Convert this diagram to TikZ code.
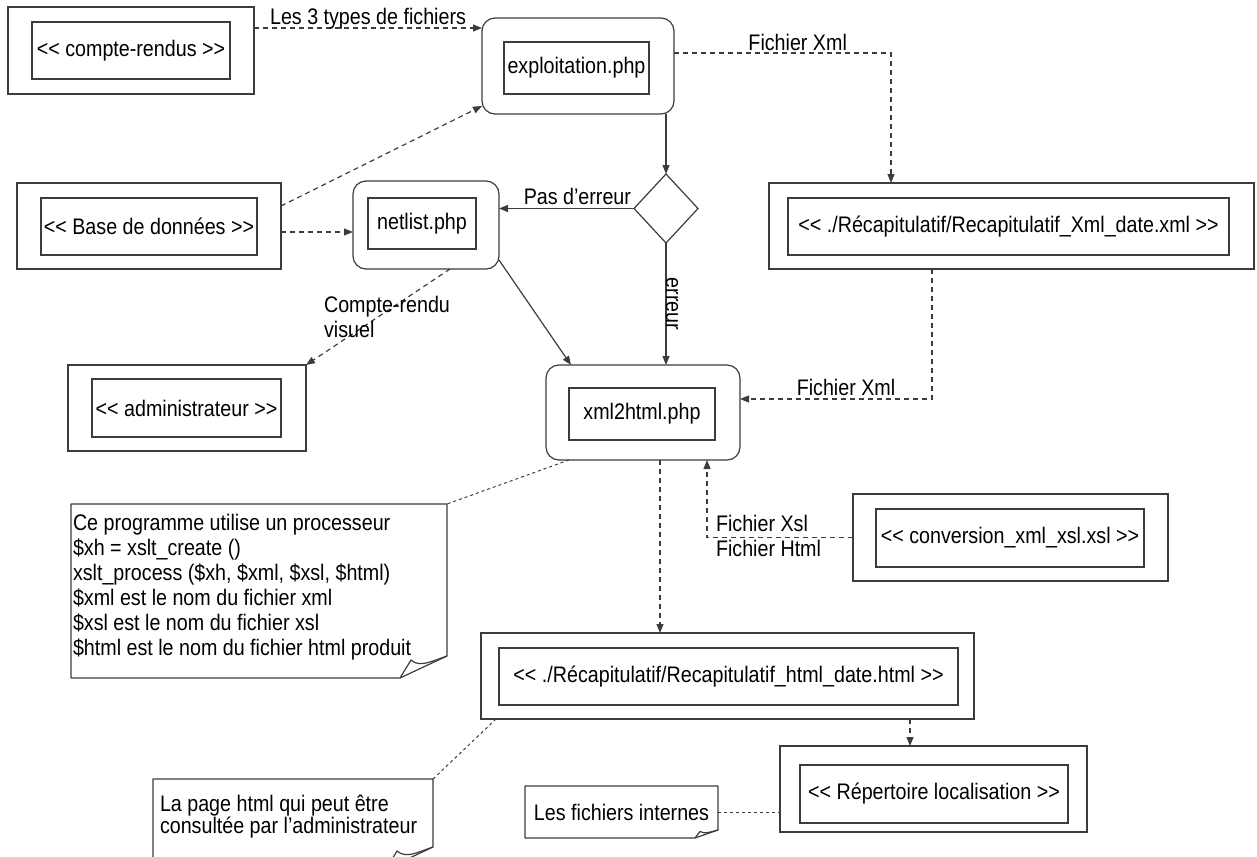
\documentclass[tikz,border=0pt]{standalone}
\usepackage{fontspec}
\setmainfont{Liberation Sans}[FakeStretch=0.875]
\usetikzlibrary{shapes.geometric,arrows.meta}
\definecolor{linegray}{RGB}{60,60,60}
\newcommand{\stereo}[1]{<\kern0pt< #1 >\kern0pt>}
\tikzset{
  outerbox/.style={draw=linegray, line width=1.2pt, inner sep=0pt},
  innerbox/.style={draw=linegray, line width=1.2pt, inner sep=0pt, align=center},
  progbox/.style={outerbox, rounded corners=13pt},
  decision/.style={draw=linegray, line width=1.2pt, diamond, inner sep=0pt},
  flow/.style={draw=linegray, line width=1.2pt, -{Triangle[length=9pt,width=7pt]}},
  dataflow/.style={flow, dash pattern=on 5pt off 4pt},
  noteline/.style={draw=linegray, line width=1pt, dash pattern=on 3pt off 3pt},
  noteedge/.style={draw=linegray, line width=1.2pt, line join=round},
  notebox/.style={inner sep=0pt},
  notetext/.style={inner sep=2pt, align=left}
}
\begin{document}
\begin{tikzpicture}[x=1pt, y=-1pt, font=\fontsize{22.5}{25}\selectfont, inner sep=2pt, outer sep=0pt]
\useasboundingbox (0,0) rectangle (1257,856);
\clip (0,0) rectangle (1257,856);
% files and actors
\node[outerbox, minimum width=246pt, minimum height=87pt] (cr) at (131,50.5) {};
\node[innerbox, minimum width=198pt, minimum height=57pt] (cri) at (131,50.5) {\stereo{compte-rendus}};
\node[outerbox, minimum width=264pt, minimum height=86pt] (bd) at (149,226) {};
\node[innerbox, minimum width=216pt, minimum height=57pt] (bdi) at (149,226.5) {\stereo{Base de données}};
\node[outerbox, minimum width=238pt, minimum height=86pt] (adm) at (187,408) {};
\node[innerbox, minimum width=189pt, minimum height=58pt] (admi) at (186.5,408) {\stereo{administrateur}};
\node[outerbox, minimum width=485pt, minimum height=86pt] (xmlf) at (1011.5,226) {};
\node[innerbox, minimum width=441pt, minimum height=57pt] (xmlfi) at (1008.5,226.5) {\stereo{./Récapitulatif/Recapitulatif\_Xml\_date.xml}};
\node[outerbox, minimum width=315pt, minimum height=87pt] (conv) at (1010.5,537.5) {};
\node[innerbox, minimum width=268pt, minimum height=58pt] (convi) at (1010,538) {\stereo{conversion\_xml\_xsl.xsl}};
\node[outerbox, minimum width=493pt, minimum height=86pt] (html) at (727.5,676) {};
\node[innerbox, minimum width=459pt, minimum height=57pt] (htmli) at (728.5,676.5) {\stereo{./Récapitulatif/Recapitulatif\_html\_date.html}};
\node[outerbox, minimum width=307pt, minimum height=86pt] (rep) at (933.5,789) {};
\node[innerbox, minimum width=268pt, minimum height=58pt] (repi) at (934,794) {\stereo{Répertoire localisation}};
% scripts
\node[progbox, minimum width=192pt, minimum height=96pt] (exp) at (578,66) {};
\node[innerbox, minimum width=145pt, minimum height=52pt] (expi) at (576.5,68) {exploitation.php};
\node[progbox, minimum width=146pt, minimum height=88pt] (net) at (426,225) {};
\node[innerbox, minimum width=108pt, minimum height=51pt] (neti) at (422,223.5) {netlist.php};
\node[progbox, minimum width=194pt, minimum height=95pt] (x2h) at (643,412.5) {};
\node[innerbox, minimum width=146pt, minimum height=52pt] (x2hi) at (642,414) {xml2html.php};
\node[decision, minimum width=64pt, minimum height=69pt] (dec) at (666,208.5) {};
% notes
\node[notebox, minimum width=376pt, minimum height=174pt] (prog) at (259,591) {};
\node[notetext, anchor=north west] (progtxt) at ([yshift=-8pt]prog.north west) {Ce programme utilise un processeur\\\$xh = xslt\_create ()\\xslt\_process (\$xh, \$xml, \$xsl, \$html)\\\$xml est le nom du fichier xml\\\$xsl est le nom du fichier xsl\\\$html est le nom du fichier html produit};
\draw[noteedge] (prog.north west) -- (prog.north east) -- ([yshift=22pt]prog.south east) -- ([xshift=-47pt]prog.south east) -- (prog.south west) -- cycle;
\draw[noteedge] ([xshift=-47pt]prog.south east) -- ([xshift=-36pt,yshift=18pt]prog.south east) .. controls ([xshift=-27pt,yshift=10pt]prog.south east) and ([xshift=-15pt,yshift=17pt]prog.south east) .. ([yshift=22pt]prog.south east);
\node[notebox, minimum width=280pt, minimum height=90pt] (page) at (293,824) {};
\node[notetext, anchor=north west, font=\fontsize{22.5}{21}\selectfont] (pagetxt) at ([xshift=5pt,yshift=-14pt]page.north west) {La page html qui peut être\\consultée par l’administrateur};
\draw[noteedge] (page.north west) -- (page.north east) -- ([yshift=22pt]page.south east) -- ([xshift=-47pt]page.south east) -- (page.south west) -- cycle;
\draw[noteedge] ([xshift=-47pt]page.south east) -- ([xshift=-36pt,yshift=18pt]page.south east) .. controls ([xshift=-27pt,yshift=10pt]page.south east) and ([xshift=-15pt,yshift=17pt]page.south east) .. ([yshift=22pt]page.south east);
\node[notebox, minimum width=193pt, minimum height=52pt] (intern) at (621.5,812) {Les fichiers internes};
\draw[noteedge] (intern.north west) -- (intern.north east) -- ([yshift=8pt]intern.south east) -- ([xshift=-23pt]intern.south east) -- (intern.south west) -- cycle;
\draw[noteedge] ([xshift=-23pt]intern.south east) -- ([xshift=-18pt,yshift=6.5pt]intern.south east) .. controls ([xshift=-13.5pt,yshift=3.6pt]intern.south east) and ([xshift=-7.5pt,yshift=6.1pt]intern.south east) .. ([yshift=8pt]intern.south east);
% solid flow
\draw[flow] (dec.north |- exp.south) -- (dec.north);
\draw[flow] (dec.west) -- (dec.west -| net.east) node[pos=0, anchor=base east, xshift=-1pt, yshift=4pt] {Pas d’erreur};
\draw[flow] (dec.south) -- (dec.south |- x2h.north) node[midway, rotate=-90, anchor=base] {erreur};
\draw[flow] ([yshift=9pt]net.south east) -- ([xshift=25pt]x2h.north west);
% data flow
\draw[dataflow] ([yshift=-21pt]cr.north east) -- ([yshift=-21pt]cr.north east -| exp.west) node[midway, anchor=base, yshift=3pt] {Les 3 types de fichiers};
\draw[dataflow] ([yshift=-23pt]bd.north east) -- ([yshift=8pt]exp.south west);
\draw[dataflow] ([yshift=-6pt]bd.east) -- ([yshift=-6pt]bd.east -| net.west);
\draw[dataflow] ([xshift=24pt]net.south) -- (adm.north east) node[midway, xshift=9pt, align=left] {Compte-rendu\\visuel};
\draw[dataflow] ([yshift=13pt]exp.east) -| ([xshift=122pt]xmlf.north west) node[pos=0.285, anchor=base, yshift=2pt] {Fichier Xml};
\draw[dataflow] ([xshift=163pt]xmlf.south west) |- ([yshift=13.5pt]x2h.east) node[pos=0.724, anchor=base, yshift=4pt] {Fichier Xml};
\draw[dataflow] ([xshift=17pt]x2h.south) -- ([xshift=17pt]x2h.south |- html.north);
\draw[dataflow] (conv.west) -| ([xshift=64pt]x2h.south) node[pos=0.476, anchor=base west, yshift=6pt] {Fichier Xsl} node[pos=0.476, anchor=base west, yshift=-19pt] {Fichier Html};
\draw[dataflow] ([xshift=182.5pt]html.south) -- ([xshift=182.5pt]html.south |- rep.north);
% note links
\draw[noteline] ([xshift=23pt]x2h.south west) -- (prog.north east);
\draw[noteline] ([xshift=15pt]html.south west) -- (page.north east);
\draw[noteline] (intern.east) -- (intern.east -| rep.west);
\end{tikzpicture}
\end{document}
